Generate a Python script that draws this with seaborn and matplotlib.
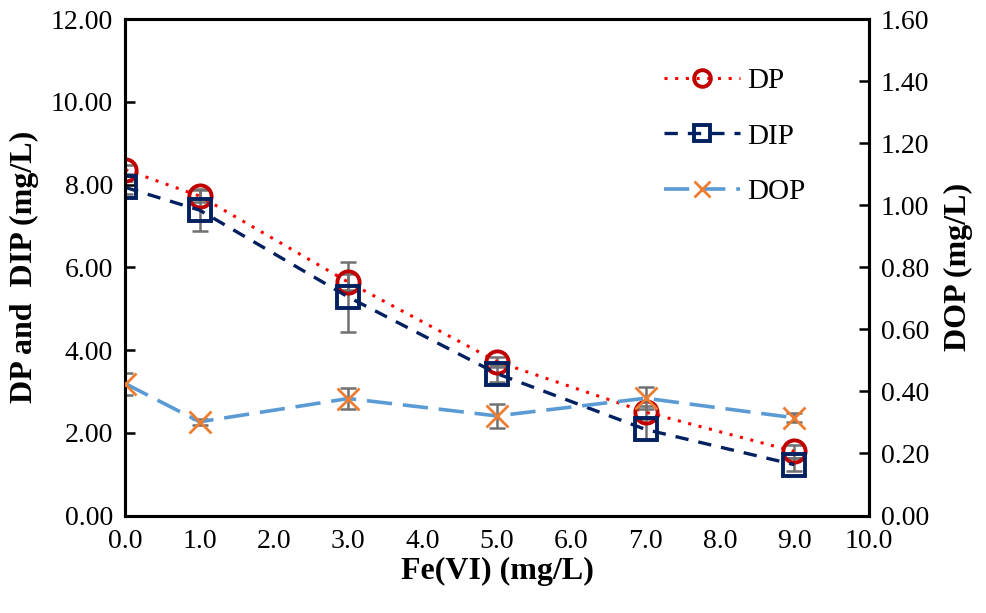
import numpy as np
import pandas as pd
import matplotlib
matplotlib.use("Agg")
import matplotlib.pyplot as plt
import seaborn as sns

# Data
fe_dose = [0.0, 1.0, 3.0, 5.0, 7.0, 9.0]
dp = [8.36, 7.72, 5.64, 3.72, 2.50, 1.55]
dip = [7.93, 7.38, 5.28, 3.43, 2.08, 1.23]
dop = [0.425, 0.302, 0.377, 0.321, 0.378, 0.315]
dp_err = [0.10, 0.15, 0.20, 0.12, 0.15, 0.15]
dip_err = [0.15, 0.50, 0.85, 0.20, 0.25, 0.15]
dop_err = [0.035, 0.010, 0.035, 0.040, 0.035, 0.015]

df = pd.DataFrame({"Fe": fe_dose, "DP": dp, "DIP": dip, "DOP": dop})

sns.set_style("white")
plt.rcParams["font.family"] = ["Liberation Serif", "DejaVu Serif"]
plt.rcParams["text.color"] = "black"
plt.rcParams["axes.labelcolor"] = "black"
plt.rcParams["xtick.color"] = "black"
plt.rcParams["ytick.color"] = "black"

fig = plt.figure(figsize=(9.87, 6.13), dpi=100)
ax = fig.add_axes([0.127, 0.159, 0.753, 0.810])
ax2 = ax.twinx()

err_kw = dict(fmt="none", ecolor="#707070", elinewidth=1.8, capsize=6, capthick=1.8, zorder=2)
ax.errorbar(fe_dose, dp, yerr=dp_err, **err_kw)
ax.errorbar(fe_dose, dip, yerr=dip_err, **err_kw)
ax2.errorbar(fe_dose, dop, yerr=dop_err, **err_kw)

sns.lineplot(data=df, x="Fe", y="DP", ax=ax, color="#FF0000", linestyle=(0, (1, 2.5)),
             linewidth=2.2, marker="o", markersize=16, markerfacecolor="none",
             markeredgecolor="#C00000", markeredgewidth=2.8, label="DP", zorder=3)
sns.lineplot(data=df, x="Fe", y="DIP", ax=ax, color="#002060", linestyle=(0, (4, 3)),
             linewidth=2.4, marker="s", markersize=16, markerfacecolor="none",
             markeredgecolor="#002060", markeredgewidth=2.8, label="DIP", zorder=3)
sns.lineplot(data=df, x="Fe", y="DOP", ax=ax2, color="#5B9BD5", linestyle=(0, (7, 3)),
             linewidth=2.6, marker="x", markersize=16, markeredgecolor="#ED7D31",
             markeredgewidth=2.0, label="DOP", zorder=3)

ax.set_xlim(0, 10)
ax.set_ylim(0, 12)
ax2.set_ylim(0, 1.6)
ax.set_xticks(np.arange(0, 10.1, 1.0))
ax.set_xticklabels([f"{v:.1f}" for v in np.arange(0, 10.1, 1.0)])
ax.set_yticks(np.arange(0, 12.1, 2))
ax.set_yticklabels([f"{v:.2f}" for v in np.arange(0, 12.1, 2)])
ax2.set_yticks(np.arange(0, 1.61, 0.2))
ax2.set_yticklabels([f"{v:.2f}" for v in np.arange(0, 1.61, 0.2)])

for a in (ax, ax2):
    a.tick_params(axis="both", direction="in", length=7, width=1.8, labelsize=20, pad=9,
                  colors="black")
    for s in a.spines.values():
        s.set_linewidth(2.2)
        s.set_color("black")
ax.tick_params(axis="x", pad=10)

ax.set_xlabel("Fe(VI) (mg/L)", fontsize=23, fontweight="bold", labelpad=2)
ax.set_ylabel("DP and  DIP (mg/L)", fontsize=23, fontweight="bold", labelpad=8)
ax2.set_ylabel("DOP (mg/L)", fontsize=23, fontweight="bold", labelpad=10)

h1, l1 = ax.get_legend_handles_labels()
h2, l2 = ax2.get_legend_handles_labels()
if ax2.get_legend():
    ax2.get_legend().remove()
if ax.get_legend():
    ax.get_legend().remove()
ax2.legend(h1 + h2, l1 + l2, loc="upper right", bbox_to_anchor=(0.95, 0.955), frameon=False,
           fontsize=21, labelspacing=1.0, handlelength=2.6, handletextpad=0.25,
           markerscale=0.75)

plt.savefig("out.png", dpi=100)
